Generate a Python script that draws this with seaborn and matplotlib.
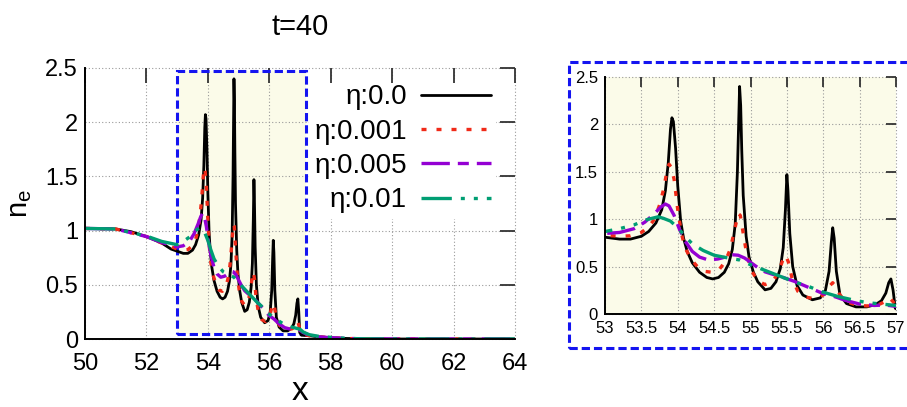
import matplotlib
matplotlib.use("Agg")
import matplotlib.pyplot as plt
from matplotlib.patches import Rectangle
import seaborn as sns
import pandas as pd

# --- data (t=40) ---
x_eta0 = [50.0, 50.5, 51.0, 51.5, 52.0, 52.5, 52.8, 53.0, 53.2, 53.35, 53.5, 53.6, 53.7,
          53.78, 53.83, 53.87, 53.9, 53.92, 53.94, 53.97, 54.0, 54.04, 54.08, 54.13, 54.2,
          54.3, 54.4, 54.48, 54.56, 54.64, 54.7, 54.75, 54.79, 54.82, 54.84, 54.85, 54.865,
          54.88, 54.9, 54.94, 54.98, 55.04, 55.1, 55.2, 55.28, 55.35, 55.41, 55.45, 55.48,
          55.5, 55.515, 55.54, 55.58, 55.64, 55.72, 55.85, 55.96, 56.03, 56.08, 56.11, 56.13,
          56.15, 56.18, 56.23, 56.32, 56.45, 56.6, 56.72, 56.8, 56.86, 56.9, 56.93, 56.96,
          56.99, 57.05, 57.3, 57.6, 58.0, 58.5, 59.0, 60.0, 62.0, 64.0]
ne_eta0 = [1.02, 1.02, 1.015, 0.99, 0.945, 0.885, 0.83, 0.81, 0.79, 0.79, 0.82, 0.87, 0.96,
           1.1, 1.3, 1.6, 1.95, 2.07, 2.03, 1.75, 1.35, 0.98, 0.8, 0.66, 0.54,
           0.44, 0.385, 0.37, 0.385, 0.44, 0.53, 0.68, 0.95, 1.5, 2.1, 2.4, 2.2,
           1.72, 1.25, 0.82, 0.6, 0.44, 0.34, 0.255, 0.27, 0.34, 0.48, 0.7, 1.1,
           1.47, 1.3, 0.85, 0.5, 0.3, 0.2, 0.15, 0.17, 0.25, 0.45, 0.75, 0.91,
           0.8, 0.45, 0.2, 0.11, 0.075, 0.075, 0.1, 0.14, 0.22, 0.33, 0.37, 0.25,
           0.06, 0.035, 0.03, 0.02, 0.012, 0.005, 0.002, 0.0, 0.0, 0.0]

x_eta001 = [50.0, 51.0, 52.0, 52.5, 53.0, 53.2, 53.35, 53.5, 53.6, 53.68, 53.75, 53.8, 53.85,
            53.88, 53.91, 53.95, 54.0, 54.05, 54.1, 54.18, 54.27, 54.37, 54.47, 54.57, 54.65,
            54.72, 54.78, 54.83, 54.86, 54.9, 54.95, 55.02, 55.1, 55.2, 55.3, 55.38, 55.44,
            55.48, 55.52, 55.57, 55.65, 55.75, 55.88, 56.0, 56.08, 56.13, 56.17, 56.23, 56.32,
            56.45, 56.6, 56.75, 56.85, 56.91, 56.96, 57.0, 57.1, 57.3, 57.6, 58.0, 58.5, 59.0,
            60.0, 64.0]
ne_eta001 = [1.02, 1.015, 0.945, 0.885, 0.83, 0.82, 0.825, 0.86, 0.92, 1.0, 1.15, 1.3, 1.5,
             1.58, 1.55, 1.42, 1.1, 0.85, 0.7, 0.58, 0.5, 0.45, 0.44, 0.47, 0.55,
             0.68, 0.88, 1.06, 1.04, 0.85, 0.62, 0.45, 0.35, 0.31, 0.34, 0.43, 0.56,
             0.62, 0.55, 0.38, 0.24, 0.18, 0.16, 0.2, 0.29, 0.33, 0.29, 0.2, 0.13,
             0.095, 0.085, 0.095, 0.13, 0.17, 0.13, 0.08, 0.045, 0.03, 0.02, 0.012, 0.005, 0.002,
             0.0, 0.0]

x_eta005 = [50.0, 51.0, 52.0, 52.5, 53.0, 53.2, 53.4, 53.55, 53.68, 53.77, 53.83, 53.88, 53.95,
            54.02, 54.1, 54.2, 54.3, 54.42, 54.55, 54.65, 54.75, 54.83, 54.92, 55.0, 55.1,
            55.2, 55.3, 55.45, 55.6, 55.8, 56.0, 56.15, 56.3, 56.5, 56.7, 56.85, 57.0, 57.1,
            57.3, 57.6, 58.0, 58.5, 59.0, 60.0, 64.0]
ne_eta005 = [1.02, 1.015, 0.945, 0.89, 0.85, 0.86, 0.9, 0.97, 1.06, 1.13, 1.16, 1.14, 1.04,
             0.9, 0.77, 0.66, 0.6, 0.57, 0.58, 0.6, 0.625, 0.62, 0.59, 0.545, 0.49,
             0.445, 0.42, 0.385, 0.345, 0.28, 0.215, 0.185, 0.145, 0.105, 0.09, 0.095, 0.08, 0.06,
             0.035, 0.02, 0.012, 0.005, 0.002, 0.0, 0.0]

x_eta01 = [50.0, 51.0, 52.0, 52.5, 53.0, 53.2, 53.4, 53.55, 53.65, 53.73, 53.8, 53.9, 54.0,
           54.1, 54.2, 54.35, 54.5, 54.7, 54.85, 55.0, 55.2, 55.4, 55.6, 55.8, 56.0, 56.2,
           56.4, 56.6, 56.8, 57.0, 57.1, 57.3, 57.6, 58.0, 58.5, 59.0, 60.0, 64.0]
ne_eta01 = [1.02, 1.015, 0.95, 0.9, 0.87, 0.9, 0.94, 0.99, 1.01, 1.025, 1.01, 0.98, 0.91,
            0.82, 0.74, 0.67, 0.62, 0.59, 0.57, 0.52, 0.46, 0.4, 0.34, 0.29, 0.23, 0.185,
            0.15, 0.12, 0.105, 0.09, 0.065, 0.04, 0.025, 0.015, 0.006, 0.002, 0.0, 0.0]

labels = ["η:0.0", "η:0.001", "η:0.005", "η:0.01"]
colors = ["#000000", "#f02a18", "#9400d3", "#009e73"]

main_xticks = [50, 52, 54, 56, 58, 60, 62, 64]
main_yticks = [0, 0.5, 1, 1.5, 2, 2.5]
main_yticklabels = ["0", "0.5", "1", "1.5", "2", "2.5"]
zoom_xticks = [53, 53.5, 54, 54.5, 55, 55.5, 56, 56.5, 57]
zoom_xticklabels = ["53", "53.5", "54", "54.5", "55", "55.5", "56", "56.5", "57"]

sns.set_theme(style="white")
plt.rcParams["font.family"] = ["Liberation Sans", "DejaVu Sans"]
plt.rcParams["text.color"] = "black"
plt.rcParams["xtick.labelcolor"] = "black"
plt.rcParams["ytick.labelcolor"] = "black"
plt.rcParams["axes.labelcolor"] = "black"

series = [(x_eta0, ne_eta0), (x_eta001, ne_eta001), (x_eta005, ne_eta005), (x_eta01, ne_eta01)]
styles = [
    dict(linestyle="-", linewidth=2.0),
    dict(linestyle=(0, (1.5, 3.0)), linewidth=2.4),
    dict(linestyle=(0, (8.5, 2.4, 3.3, 2.4)), linewidth=2.4),
    dict(linestyle=(0, (9.1, 2.7, 1.2, 2.7, 1.2, 2.7)), linewidth=2.4),
]

YELLOW = "#fbfbe9"
BLUE = "#1414f0"
GRID = dict(color="#9a9a9a", linewidth=0.8, linestyle=(0, (1, 2)), zorder=0.3, clip_on=False)


def draw_lines(ax, with_label):
    for (xs, ys), lab, col, st in zip(series, labels, colors, styles):
        df = pd.DataFrame({"x": xs, "ne": ys})
        sns.lineplot(data=df, x="x", y="ne", ax=ax, color=col, sort=False, estimator=None,
                     label=lab if with_label else None, legend=with_label, **st)


def gnuplot_axes(ax, xticks, yticks, xlabels, ylabels, size, ticklen, xpad, ypad):
    ax.set_xticks(xticks, xlabels)
    ax.set_yticks(yticks, ylabels)
    for v in xticks:
        ax.axvline(v, **GRID)
    for v in yticks:
        ax.axhline(v, **GRID)
    ax.spines["top"].set_visible(False)
    ax.spines["right"].set_visible(False)
    for s in ("left", "bottom"):
        ax.spines[s].set_color("black")
        ax.spines[s].set_linewidth(1.4)
    ax.set_axisbelow(True)
    ax.tick_params(axis="both", which="major", direction="in", top=True, right=True,
                   length=ticklen, width=1.3, color="#333333", labelsize=size,
                   labelcolor="black")
    ax.tick_params(axis="x", pad=xpad)
    ax.tick_params(axis="y", pad=ypad)
    ax.set_xlabel("")
    ax.set_ylabel("")


fig = plt.figure(figsize=(9.07, 4.07), dpi=100)
ax = fig.add_axes([85 / 907, 1 - 339 / 407, 430 / 907, 271 / 407])
ax2 = fig.add_axes([605 / 907, 1 - 314 / 407, 291 / 907, 237 / 407])

# main panel
ax.add_patch(Rectangle((53, 0.05), 4.2, 2.42, facecolor=YELLOW, edgecolor="none", zorder=0.1))
draw_lines(ax, True)
ax.add_patch(Rectangle((53, 0.05), 4.2, 2.42, fill=False, edgecolor=BLUE, linewidth=2.2,
                       linestyle=(0, (2.7, 1.3)), zorder=1.0))
ax.set_xlim(50, 64)
ax.set_ylim(0, 2.5)
gnuplot_axes(ax, main_xticks, main_yticks, [str(v) for v in main_xticks], main_yticklabels,
             17, 11, 10, 5)
ax.set_xlabel("x", fontsize=24, color="black")
ax.xaxis.set_label_coords(0.5, -0.135)
ax.set_ylabel(r"$\mathregular{n_e}$", fontsize=21, color="black")
ax.yaxis.set_label_coords(-0.119, 0.5)
ax.set_title("t=40", fontsize=21, pad=24, color="black")

leg = ax.legend(loc="upper right", bbox_to_anchor=(0.956, 0.96), markerfirst=False,
                frameon=True, facecolor="white", edgecolor="none", framealpha=1,
                fancybox=False, fontsize=20, handlelength=2.5, handletextpad=0.5,
                labelspacing=0.3, borderpad=0.2, borderaxespad=0)
for t in leg.get_texts():
    t.set_color("black")
leg.set_zorder(0.4)

# zoomed panel
ax2.set_facecolor(YELLOW)
draw_lines(ax2, False)
ax2.set_xlim(53, 57)
ax2.set_ylim(0, 2.5)
gnuplot_axes(ax2, zoom_xticks, main_yticks, zoom_xticklabels, main_yticklabels,
             12, 7.5, 5, 5)

fig.add_artist(Rectangle((569 / 907, 1 - 348 / 407), 340 / 907, 286 / 407,
                         transform=fig.transFigure, fill=False, edgecolor=BLUE,
                         linewidth=2.2, linestyle=(0, (2.7, 1.3))))

fig.savefig("out.png", dpi=100)
plt.close(fig)
